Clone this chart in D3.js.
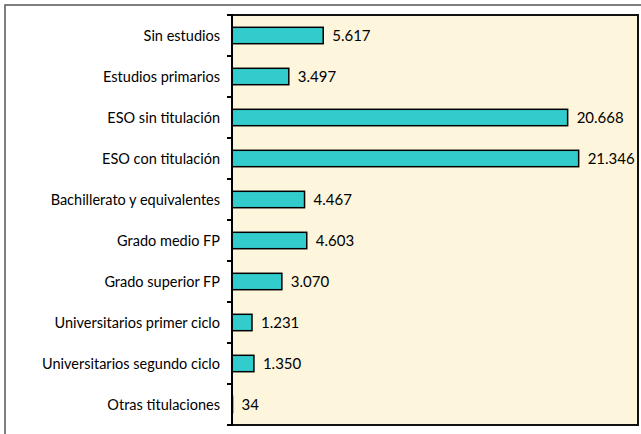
<!DOCTYPE html>
<html>
<head>
<meta charset="utf-8">
<script src="https://cdn.jsdelivr.net/npm/d3@7"></script>
<style>
	body { margin: 0; background: #fff; }
	svg { display: block; }
	.cat-label { font-family: Lato, "Open Sans", sans-serif; font-size: 14.5px; fill: #000; }
	.val-label { font-family: Lato, "Open Sans", sans-serif; font-size: 15px; fill: #000; }
</style>
</head>
<body>
<svg id="chart"></svg>
<script>
/*=================
=== Data
=================*/
var categories = [
	'Sin estudios',
	'Estudios primarios',
	'ESO sin titulación',
	'ESO con titulación ',
	'Bachillerato y equivalentes',
	'Grado medio FP',
	'Grado superior FP',
	'Universitarios primer ciclo',
	'Universitarios segundo ciclo',
	'Otras titulaciones'
];
var values = [5617, 3497, 20668, 21346, 4467, 4603, 3070, 1231, 1350, 34];
var valueLabels = ['5.617', '3.497', '20.668', '21.346', '4.467', '4.603', '3.070', '1.231', '1.350', '34'];

/*=================
=== Layout
=================*/
var width = 641, height = 434;
var plot = { left: 232, top: 15, right: 638, bottom: 425 };

var svg = d3.select('#chart')
	.attr('width', width)
	.attr('height', height);

// outer frame
svg.append('rect')
	.attr('x', 5)
	.attr('y', 5)
	.attr('width', width + 10)
	.attr('height', height + 10)
	.attr('fill', '#fff')
	.attr('stroke', '#555')
	.attr('stroke-width', 1.5);

var x = d3.scaleLinear()
	.domain([0, 25000])
	.range([plot.left, plot.right]);

var y = d3.scaleBand()
	.domain(categories)
	.range([plot.top, plot.bottom])
	.paddingInner(0.6)
	.paddingOuter(0.3);

// plot area
svg.append('rect')
	.attr('x', plot.left)
	.attr('y', plot.top)
	.attr('width', plot.right - plot.left)
	.attr('height', plot.bottom - plot.top)
	.attr('fill', '#FEF5DD')
	.attr('stroke', '#111')
	.attr('stroke-width', 2);

// bars
svg.append('g')
	.selectAll('rect')
	.data(values)
	.enter()
	.append('rect')
	.attr('x', x(0))
	.attr('y', (d, i) => y(categories[i]))
	.attr('width', d => x(d) - x(0))
	.attr('height', y.bandwidth())
	.attr('fill', '#33CCCC')
	.attr('stroke', '#000')
	.attr('stroke-width', 1.5);

// value labels
svg.append('g')
	.selectAll('text')
	.data(values)
	.enter()
	.append('text')
	.attr('class', 'val-label')
	.attr('x', d => x(d) + 9)
	.attr('y', (d, i) => y(categories[i]) + y.bandwidth() / 2)
	.attr('dy', '0.35em')
	.text((d, i) => valueLabels[i]);

// category axis (ticks between categories)
var tickY = d3.range(categories.length + 1).map(i => plot.top + (plot.bottom - plot.top) * i / categories.length);

var axisG = svg.append('g');
axisG.append('line')
	.attr('x1', plot.left)
	.attr('x2', plot.left)
	.attr('y1', plot.top - 1)
	.attr('y2', plot.bottom + 1)
	.attr('stroke', '#000')
	.attr('stroke-width', 2);

axisG.selectAll('.tick')
	.data(tickY)
	.enter()
	.append('line')
	.attr('x1', plot.left - 5)
	.attr('x2', plot.left)
	.attr('y1', d => d)
	.attr('y2', d => d)
	.attr('stroke', '#000')
	.attr('stroke-width', 2);

axisG.selectAll('.cat-label')
	.data(categories)
	.enter()
	.append('text')
	.attr('class', 'cat-label')
	.attr('x', plot.left - 12)
	.attr('y', d => y(d) + y.bandwidth() / 2)
	.attr('dy', '0.35em')
	.attr('text-anchor', 'end')
	.text(d => d);
</script>
</body>
</html>
